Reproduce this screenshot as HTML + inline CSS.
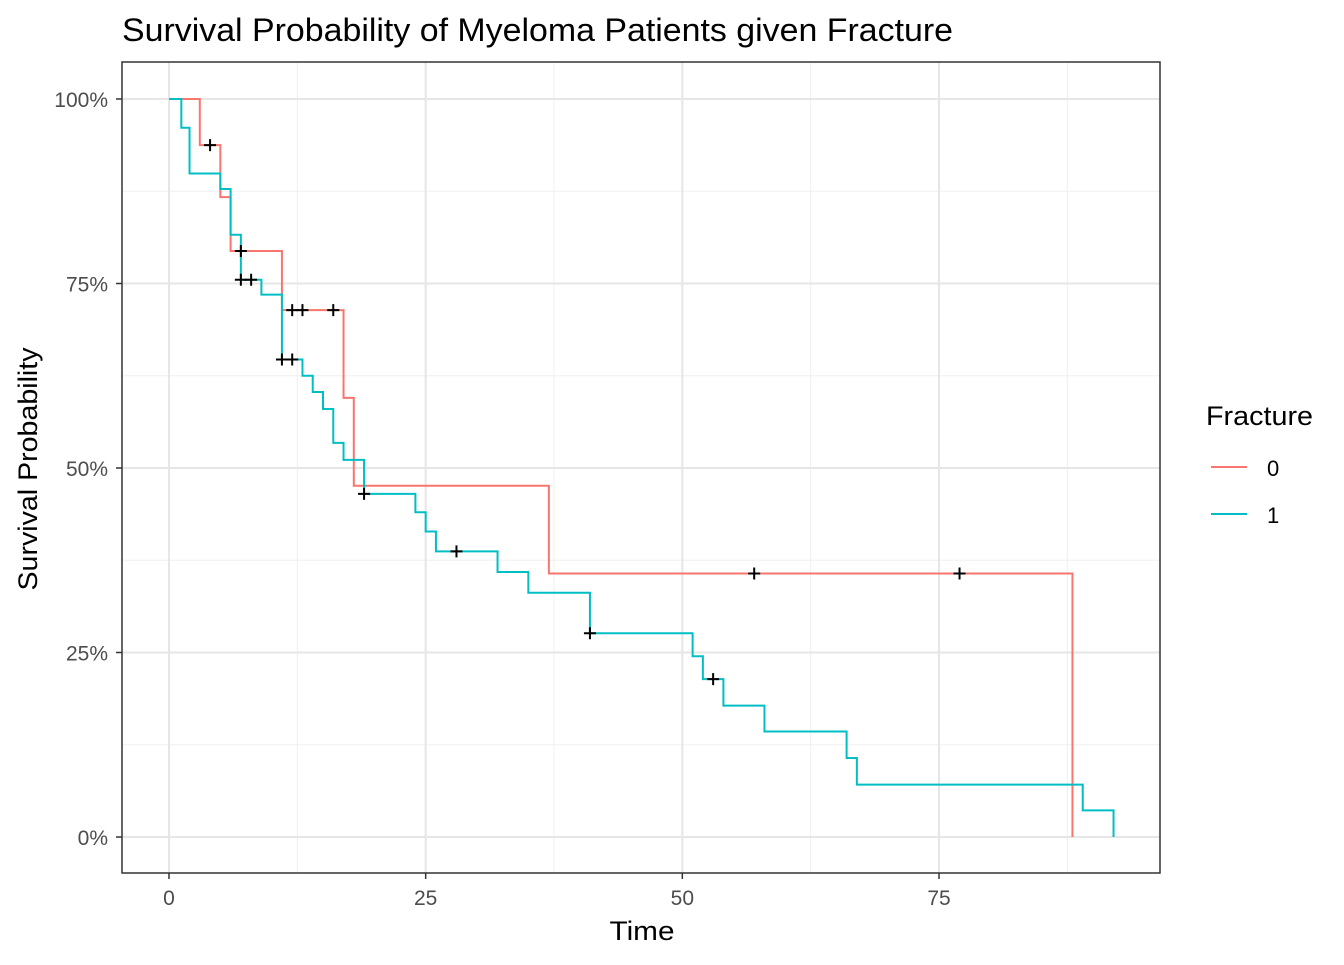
<!DOCTYPE html>
<html><head><meta charset="utf-8"><style>
body{margin:0;background:#fff}
svg text{font-family:"Liberation Sans",Arial,sans-serif}
</style></head><body>
<svg id="chart" width="1344" height="960" viewBox="0 0 1344 960" xmlns="http://www.w3.org/2000/svg">
<text x="122" y="41" font-size="32" fill="#000" textLength="831" lengthAdjust="spacingAndGlyphs">Survival Probability of Myeloma Patients given Fracture</text>
<g id="grid"></g>
<g id="marks"></g>
<rect x="122" y="62" width="1038" height="811" fill="none" stroke="#333" stroke-width="1.5"/>
<g id="axes"></g>
<text x="642" y="940" font-size="27" text-anchor="middle" textLength="65" lengthAdjust="spacingAndGlyphs">Time</text>
<text transform="translate(37,469) rotate(-90)" font-size="27" text-anchor="middle" textLength="243" lengthAdjust="spacingAndGlyphs">Survival Probability</text>
<g>
<text x="1206" y="425" font-size="27" textLength="107" lengthAdjust="spacingAndGlyphs">Fracture</text>
<line x1="1211" x2="1247" y1="467" y2="467" stroke="#F8766D" stroke-width="2"/>
<text x="1267" y="476" font-size="22">0</text>
<line x1="1211" x2="1247" y1="514" y2="514" stroke="#00BFC4" stroke-width="2"/>
<text x="1267" y="523" font-size="22">1</text>
</g>
</svg>
<script>
const xTicks=[0,25,50,75];
const yTicks=[0,0.25,0.5,0.75,1];
const yTickLabels=["0%","25%","50%","75%","100%"];
const time0=[0,3,5,6,11,17,18,37,88];
const surv0=[1,0.9375,0.867,0.794,0.714,0.595,0.476,0.357,0];
const cens0T=[4,7,12,13,16,57,77];
const cens0S=[0.9375,0.794,0.714,0.714,0.714,0.357,0.357];
const time1=[0,1.2,2,5,6,7,9,11,13,14,15,16,17,19,24,25,26,32,35,41,51,52,54,58,66,67,89,92];
const surv1=[1,0.961,0.899,0.878,0.816,0.755,0.735,0.647,0.625,0.603,0.58,0.534,0.511,0.465,0.44,0.414,0.387,0.359,0.331,0.276,0.245,0.214,0.178,0.143,0.107,0.071,0.036,0];
const cens1T=[7,8,11,12,19,28,41,53];
const cens1S=[0.755,0.755,0.647,0.647,0.465,0.387,0.276,0.214];
const X=t=>169+t*(939-169)/75;
const Y=s=>837-s*(837-99);
const NS="http://www.w3.org/2000/svg";
function mk(tag,attrs,parent){const e=document.createElementNS(NS,tag);for(const k in attrs)e.setAttribute(k,attrs[k]);parent.appendChild(e);return e;}
const grid=document.getElementById('grid'),marks=document.getElementById('marks'),axes=document.getElementById('axes');
mk('rect',{x:122,y:62,width:1038,height:811,fill:'#fff'},grid);
for(let i=0;i<xTicks.length;i++){
  const m=mk('line',{x1:X(xTicks[i]+12.5),x2:X(xTicks[i]+12.5),y1:62,y2:873,stroke:'#f0f0f0','stroke-width':1},grid);
  
  
}
for(let i=0;i<yTicks.length-1;i++){
  const m=mk('line',{x1:122,x2:1160,y1:Y(yTicks[i]+0.125),y2:Y(yTicks[i]+0.125),stroke:'#f0f0f0','stroke-width':1},grid);
  
  
}
xTicks.forEach(t=>{
  const g=mk('line',{x1:X(t),x2:X(t),y1:62,y2:873,stroke:'#e6e6e6','stroke-width':2},grid);
  
  
  const tk=mk('line',{x1:X(t),x2:X(t),y1:873,y2:879,stroke:'#333','stroke-width':1.5},axes);
  
  
  const tx=mk('text',{x:X(t),y:905,'font-size':21,fill:'#4d4d4d','text-anchor':'middle'},axes);
  tx.textContent=t;
  
  
});
yTicks.forEach((s,i)=>{
  const g=mk('line',{x1:122,x2:1160,y1:Y(s),y2:Y(s),stroke:'#e6e6e6','stroke-width':2},grid);
  
  
  const tk=mk('line',{x1:116,x2:122,y1:Y(s),y2:Y(s),stroke:'#333','stroke-width':1.5},axes);
  
  
  const tx=mk('text',{x:108,y:Y(s)+8,'font-size':21,fill:'#4d4d4d','text-anchor':'end'},axes);
  tx.textContent=yTickLabels[i];
  
  
});
function step(T,S,color,name){
  let d='M'+X(T[0])+','+Y(S[0]);
  for(let i=1;i<T.length;i++){d+=' H'+X(T[i])+' V'+Y(S[i]);}
  const p=mk('path',{d:d,fill:'none',stroke:color,'stroke-width':2},marks);
  
  
}
function cens(T,S,name){
  for(let i=0;i<T.length;i++){
    const x=X(T[i]),y=Y(S[i]);
    const c=mk('path',{d:`M${x-6},${y} H${x+6} M${x},${y-6} V${y+6}`,stroke:'#000','stroke-width':2},marks);
    
    
  }
}
step(time0,surv0,'#F8766D','survival-curve-fracture-0');
step(time1,surv1,'#00BFC4','survival-curve-fracture-1');
cens(cens0T,cens0S,'censor-mark-0');
cens(cens1T,cens1S,'censor-mark-1');
</script>
</body></html>
